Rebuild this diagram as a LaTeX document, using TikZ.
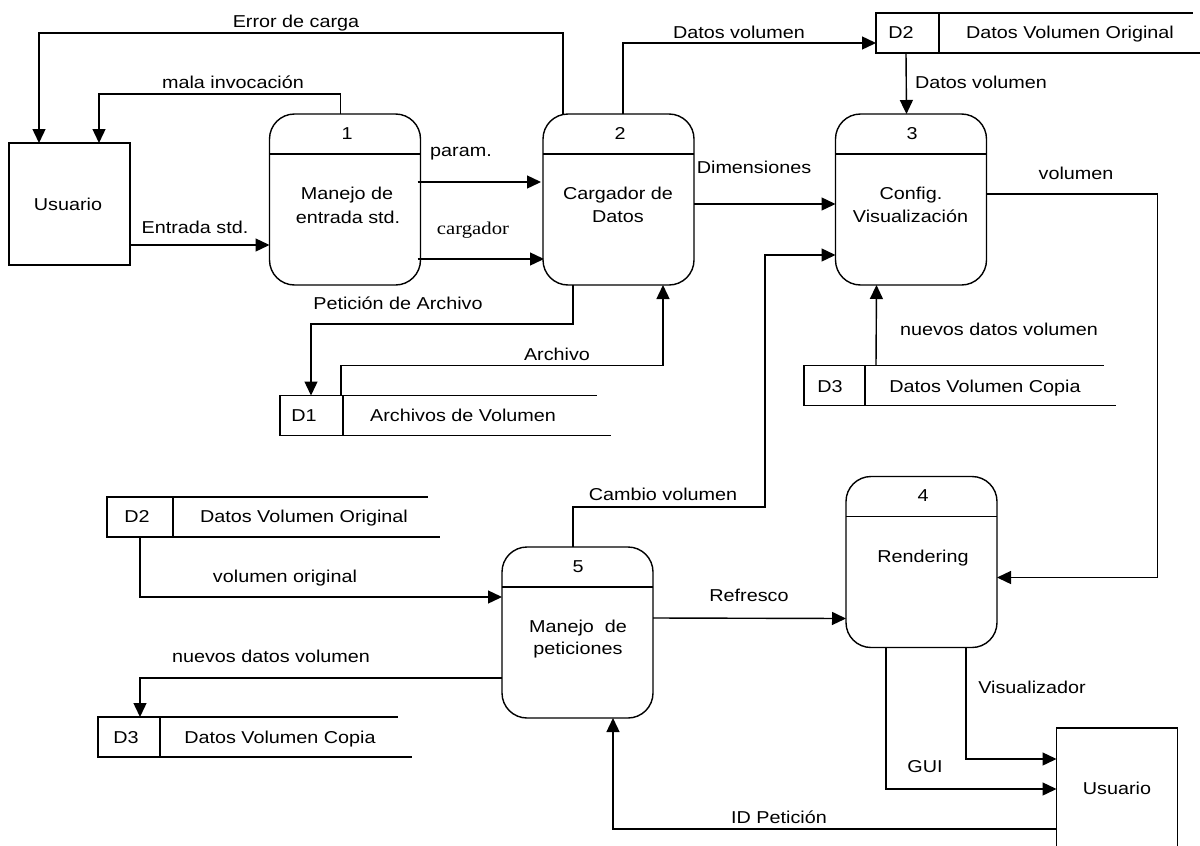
\documentclass[tikz,border=0pt]{standalone}
\usepackage{fontspec}
\setmainfont{Liberation Sans}[FakeStretch=1.15]
\newfontfamily\serifface{Liberation Serif}[FakeStretch=1.15]
\usetikzlibrary{arrows.meta,calc}
\begin{document}
\begin{tikzpicture}[x=1pt,y=-1pt,
  font=\fontsize{17.2}{20}\selectfont,
  every node/.style={inner sep=0pt, outer sep=0pt},
  txt/.style={text height=12.3pt, text depth=0pt},
  line/.style={line width=1.4pt},
  flow/.style={line width=1.4pt, -{Triangle[length=14pt,width=13pt]}},
  proc/.style={draw, line width=1.4pt, rounded corners=25pt,
               minimum width=151pt, minimum height=171pt},
  ext/.style={draw, line width=1.4pt, minimum width=121pt},
  storeid/.style={draw, line width=1.4pt, minimum height=40pt}
]
\clip (0,0) rectangle (1200,846);
\useasboundingbox (0,0) rectangle (1200,846);

% ---------- external entities ----------
\node[ext, minimum height=122pt] (u1) at (69.5,204) {};
\node[txt] (u1t) at (68,204) {Usuario};
\node[ext, minimum height=132pt] (u2) at (1117,794) {};
\node[txt] (u2t) at (1117,788) {Usuario};

% ---------- processes ----------
\node[proc] (p1) at (345,199.5) {};
\node[proc] (p2) at (618.5,199.5) {};
\node[proc] (p3) at (911,199.5) {};
\node[proc] (p4) at (921.5,562) {};
\node[proc] (p5) at (577.5,632.5) {};
\foreach \p in {p1,p2,p3,p4,p5}
  \draw[line] ($(\p.north west)+(0,40)$) -- ($(\p.north east)+(0,40)$);

\node[txt] (p1n) at (347,133) {1};
\node[txt] (p1a) at (347,193) {Manejo de};
\node[txt] (p1b) at (348,217) {entrada std.};
\node[txt] (p2n) at (620,133) {2};
\node[txt] (p2a) at (618,193) {Cargador de};
\node[txt] (p2b) at (618,216) {Datos};
\node[txt] (p3n) at (912,133) {3};
\node[txt] (p3a) at (911,193) {Config.};
\node[txt] (p3b) at (910.5,216) {Visualización};
\node[txt] (p4n) at (923,495) {4};
\node[txt] (p4a) at (923,556) {Rendering};
\node[txt] (p5n) at (578,566) {5};
\node[txt] (p5a) at (578,626) {Manejo\ \ de};
\node[txt] (p5b) at (578,648) {peticiones};

% ---------- data stores ----------
\node[storeid, minimum width=63pt] (d2a) at (907.5,33) {};
\node[txt] (d2aid) at (901,32) {D2};
\node[txt] (d2an) at (1070,32) {Datos Volumen Original};
\draw[line] (d2a.north east) -- ++(254,0);
\draw[line] (d2a.south east) -- ++(262,0);

\node[storeid, minimum width=63pt] (d1a) at (311.5,415.5) {};
\node[txt] (d1aid) at (304,415) {D1};
\node[txt] (d1an) at (463,415) {Archivos de Volumen};
\draw[line] (d1a.north east) -- ++(254,0);
\draw[line] (d1a.south east) -- ++(268,0);

\node[storeid, minimum width=61pt] (d3a) at (834.5,385.5) {};
\node[txt] (d3aid) at (830,386) {D3};
\node[txt] (d3an) at (985,386) {Datos Volumen Copia};
\draw[line] (d3a.north east) -- ++(239,0);
\draw[line] (d3a.south east) -- ++(251,0);

\node[storeid, minimum width=66pt] (d2b) at (140,517) {};
\node[txt] (d2bid) at (137,516) {D2};
\node[txt] (d2bn) at (304,516) {Datos Volumen Original};
\draw[line] (d2b.north east) -- ++(255,0);
\draw[line] (d2b.south east) -- ++(267,0);

\node[storeid, minimum width=62pt] (d3b) at (129,737) {};
\node[txt] (d3bid) at (126,737) {D3};
\node[txt] (d3bn) at (280,737) {Datos Volumen Copia};
\draw[line] (d3b.north east) -- ++(238,0);
\draw[line] (d3b.south east) -- ++(252,0);

% ---------- data flows ----------
\draw[flow] ($(p2.north west)+(20,0)$) -- ++(0,-81) -| ($(u1.north west)+(30,0)$);
\node[txt] (lerr) at (296,21) {Error de carga};

\draw[flow] ($(p1.north west)+(71,0)$) -- ++(0,-20) -| ($(u1.north west)+(90,0)$);
\node[txt] (lmala) at (233,82) {mala invocación};

\draw[flow] ($(u1.south east)+(0,-20)$) -- ($(p1.south west)+(0,-40)$);
\node[txt] (lent) at (195,227) {Entrada std.};

\draw[flow] ($(p1.north east)+(-3,68)$) -- ($(p2.north west)+(-2,68)$);
\node[txt] (lpar) at (461,150) {param.};

\draw[flow] ($(p1.south east)+(-3,-26)$) -- ($(p2.south west)+(1,-26)$);
\node[font=\serifface\fontsize{18}{20}\selectfont, text height=9pt, text depth=0pt] (lcarg) at (473,230) {cargador};

\draw[flow] ($(p2.north west)+(80,0)$) |- ($(d2a.south west)+(0,-10)$);
\node[txt] (ldv1) at (739,32) {Datos volumen};

\draw[flow] ($(d2a.south west)+(30,0)$) -- ($(p3.north west)+(71,0)$);
\node[txt] (ldv2) at (981,82) {Datos volumen};

\draw[flow] ($(p2.north east)+(0,90)$) -- ($(p3.north west)+(0,90)$);
\node[txt] (ldim) at (754,167) {Dimensiones};

\draw[flow] ($(p3.north east)+(0,80)$) -- ++(171,0) |- ($(p4.north east)+(0,101)$);
\node[txt] (lvol) at (1076,173) {volumen};

\draw[flow] ($(p2.south west)+(30,0)$) -- ++(0,39) -| ($(d1a.north west)+(31,0)$);
\node[txt] (lpet) at (398,303) {Petición de Archivo};

\draw[flow] ($(d1a.north east)+(-2,0)$) -- ++(0,-30) -| ($(p2.south west)+(120,0)$);
\node[txt] (larch) at (557,354) {Archivo};

\draw[flow] ($(d3a.north east)+(11,0)$) -- ($(p3.south west)+(41,0)$);
\node[txt] (lndv1) at (999,329) {nuevos datos volumen};

\draw[flow] ($(p5.north west)+(71,0)$) -- ++(0,-40) -- ++(192,0) |- ($(p3.north west)+(0,141)$);
\node[txt] (lcam) at (663,494) {Cambio volumen};

\draw[flow] (d2b.south) |- ($(p5.north west)+(0,50)$);
\node[txt] (lvo) at (285,576) {volumen original};

\draw[flow] ($(p5.north west)+(0,131)$) -| ($(d3b.north west)+(42,0)$);
\node[txt] (lndv2) at (271,656) {nuevos datos volumen};

\draw[flow] ($(p5.north east)+(0,71)$) -- ($(p4.north west)+(0,142)$);
\node[txt] (lref) at (749,595) {Refresco};

\draw[flow] ($(p4.south west)+(120,0)$) |- ($(u2.north west)+(0,31)$);
\node[txt] (lvis) at (1032,687) {Visualizador};

\draw[flow] ($(p4.south west)+(40,0)$) |- ($(u2.north west)+(0,61)$);
\node[txt] (lgui) at (925,766) {GUI};

\draw[flow] ($(u2.north west)+(0,101)$) -| ($(p5.south west)+(111,0)$);
\node[txt] (lid) at (779,817) {ID Petición};
\end{tikzpicture}
\end{document}
